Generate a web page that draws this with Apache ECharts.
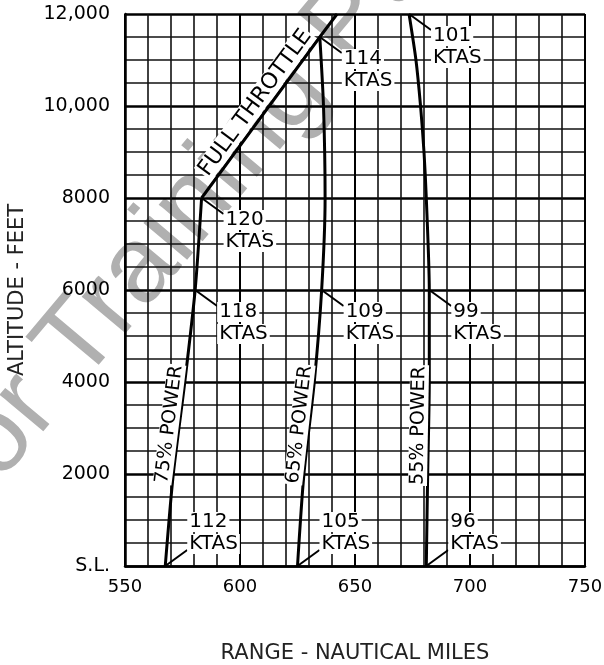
<!DOCTYPE html>
<html>
<head>
<meta charset="utf-8">
<script src="https://cdn.jsdelivr.net/npm/echarts@6/dist/echarts.min.js"></script>
<style>
  html, body { margin: 0; padding: 0; background: #fff; }
  #chart { width: 604px; height: 665px; }
</style>
</head>
<body>
<div id="chart"></div>
<script>
// curves: [range nm, altitude ft]
const power75 = [[567.5, 0], [571, 2000], [576, 4000], [580.5, 6000], [583.3, 8000]];
const power65 = [[625, 0], [627.8, 2000], [632.3, 4000], [635.5, 6000], [637, 8000], [636.3, 10000], [634.7, 11500]];
const power55 = [[681, 0], [681.6, 2000], [682.3, 4000], [682.3, 6000], [681, 8000], [680, 9000], [678.5, 10000], [676.5, 11000], [673.5, 12000]];
const fullThrottle = [[583.3, 8000], [634.7, 11500], [642.2, 12000]];

// speed callouts
const ktasSpeed = [112, 105, 96, 118, 109, 99, 120, 114, 101];
const ktasRange = [567.5, 625, 681, 580.5, 635.5, 682.3, 583.3, 634.7, 673.5];
const ktasAlt = [0, 0, 0, 6000, 6000, 6000, 8000, 11500, 12000];

// curve labels
const curveLabels = ['75% POWER', '65% POWER', '55% POWER', 'FULL THROTTLE'];
const curveLabelAlt = [3050, 3050, 3050, 9900];
const curves = [power75, power65, power55, fullThrottle];

const altLabels = { 0: 'S.L.', 2000: '2000', 4000: '4000', 6000: '6000', 8000: '8000', 10000: '10,000', 12000: '12,000' };

const FONT = '"DejaVu Sans", sans-serif';

function segAt(curve, alt) {
	for (let i = 0; i < curve.length - 1; i++) {
		if (alt >= curve[i][1] && alt <= curve[i + 1][1]) return i;
	}
	return curve.length - 2;
}

const chart = echarts.init(document.getElementById('chart'));

const curveSeries = curves.map(c => ({
	type: 'line',
	data: c,
	showSymbol: false,
	smooth: c === fullThrottle ? false : 0.25,
	lineStyle: { color: '#000', width: 3 },
	z: 3,
	silent: true
}));

chart.setOption({
	backgroundColor: '#fff',
	animation: false,
	graphic: [{
		type: 'text',
		x: -24, y: 549,
		rotation: 50 * Math.PI / 180,
		z: -10,
		silent: true,
		style: {
			text: 'For Training Purposes Only',
			font: '108px "Liberation Sans", Arial, sans-serif',
			fill: '#b0b0b0',
			textAlign: 'left',
			textVerticalAlign: 'bottom'
		}
	}],
	grid: { left: 125, right: 19, top: 14, bottom: 99, outerBoundsMode: 'none' },
	xAxis: {
		type: 'value',
		min: 550, max: 750, interval: 50,
		name: 'RANGE - NAUTICAL MILES',
		nameLocation: 'middle',
		nameGap: 77,
		nameTextStyle: { fontFamily: FONT, fontSize: 21, color: '#222' },
		axisLine: { show: true, lineStyle: { color: '#000', width: 2.5 } },
		axisTick: { show: false },
		axisLabel: { margin: 12, fontFamily: FONT, fontSize: 18, color: '#000' },
		splitLine: { show: true, lineStyle: { color: '#000', width: 2 } },
		minorTick: { show: false, splitNumber: 5 },
		minorSplitLine: { show: true, lineStyle: { color: '#111', width: 1.6 } }
	},
	yAxis: {
		type: 'value',
		min: 0, max: 12000, interval: 2000,
		name: 'ALTITUDE - FEET',
		nameLocation: 'middle',
		nameRotate: 90,
		nameGap: 97,
		nameTextStyle: { fontFamily: FONT, fontSize: 21, color: '#222' },
		axisLine: { show: true, lineStyle: { color: '#000', width: 2.5 } },
		axisTick: { show: false },
		axisLabel: {
			margin: 15, fontFamily: FONT, fontSize: 19, color: '#000',
			formatter: v => altLabels[v] || String(v)
		},
		splitLine: { show: true, lineStyle: { color: '#000', width: 2.5 } },
		minorTick: { show: false, splitNumber: 4 },
		minorSplitLine: { show: true, lineStyle: { color: '#111', width: 1.6 } }
	},
	series: curveSeries.concat([
		{
			// KTAS callouts
			type: 'custom',
			z: 5,
			silent: true,
			data: ktasRange.map((r, i) => [r, ktasAlt[i], ktasSpeed[i]]),
			renderItem: (params, api) => {
				const p = api.coord([api.value(0), api.value(1)]);
				const atSL = api.value(1) === 0;
				const ty = atSL ? -1 : 1;
				const txt = (t, dy) => ({
					type: 'text',
					x: p[0] + 22,
					y: p[1] + dy,
					style: {
						text: t, font: '20px ' + FONT, fill: '#000',
						textAlign: 'left', textVerticalAlign: 'middle',
						backgroundColor: '#fff', padding: [0, 2, 0, 2]
					}
				});
				return {
					type: 'group',
					children: [
						{ type: 'line', shape: { x1: p[0], y1: p[1], x2: p[0] + 22, y2: p[1] + ty * 16 }, style: { stroke: '#000', lineWidth: 2 } },
						txt(String(api.value(2)), atSL ? -44 : 22),
						txt('KTAS', atSL ? -22 : 44)
					]
				};
			}
		},
		{
			// curve names along the lines
			type: 'custom',
			z: 4,
			silent: true,
			data: curveLabels.map((t, i) => [i, curveLabelAlt[i]]),
			renderItem: (params, api) => {
				const i = api.value(0);
				const alt = api.value(1);
				const c = curves[i];
				const s = segAt(c, alt);
				const a = c[s], b = c[s + 1];
				const f = (alt - a[1]) / (b[1] - a[1]);
				const p = api.coord([a[0] + (b[0] - a[0]) * f, alt]);
				const pa = api.coord(a), pb = api.coord(b);
				const ang = Math.atan2(-(pb[1] - pa[1]), pb[0] - pa[0]);
				const upx = -Math.sin(ang), upy = -Math.cos(ang);
				const off = i === 3 ? 13 : 10;
				const size = i === 3 ? 22 : 19;
				return {
					type: 'text',
					x: p[0] + upx * off,
					y: p[1] + upy * off,
					rotation: ang,
					style: {
						text: curveLabels[i], font: size + 'px ' + FONT, fill: '#000',
						textAlign: 'center', textVerticalAlign: 'middle',
						backgroundColor: '#fff', padding: [0, 1, 0, 1]
					}
				};
			}
		}
	])
});
</script>
</body>
</html>
